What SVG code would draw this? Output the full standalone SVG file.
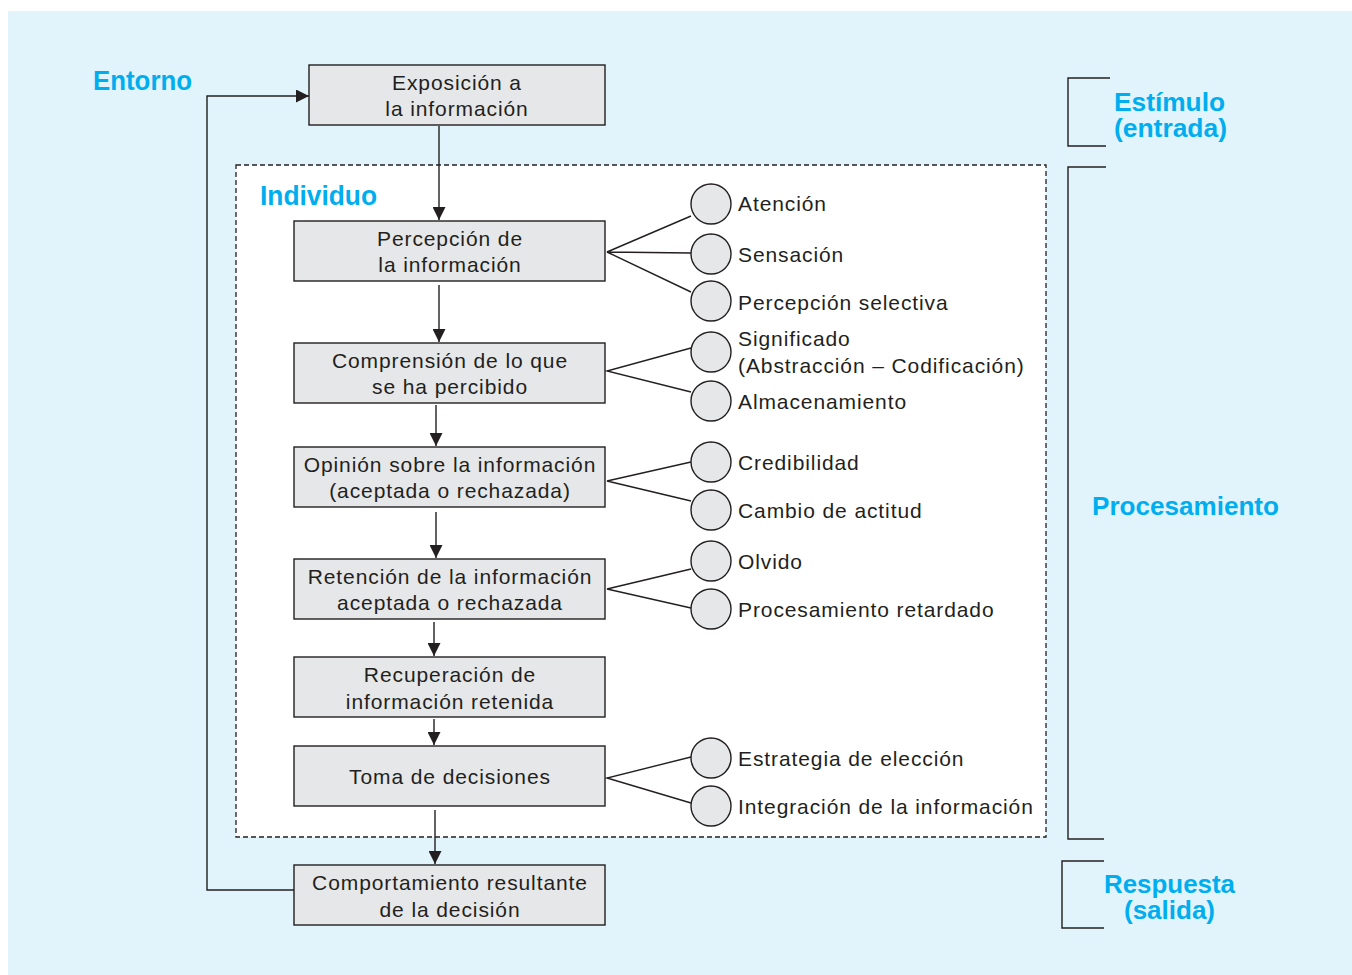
<svg xmlns="http://www.w3.org/2000/svg" width="1352" height="975" viewBox="0 0 1352 975">
<defs>
<marker id="ah" viewBox="0 0 10 10" refX="10" refY="5" markerWidth="13" markerHeight="13" markerUnits="userSpaceOnUse" orient="auto">
<path d="M0,0 L10,5 L0,10 Z" fill="#231f20"/>
</marker>
<style>
.box{fill:#e6e7e8;stroke:#231f20;stroke-width:1.4}
.bt{font-family:"Liberation Sans",Arial,sans-serif;font-size:21px;fill:#231f20;text-anchor:middle;letter-spacing:0.9px}
.lt{font-family:"Liberation Sans",Arial,sans-serif;font-size:21px;fill:#231f20;letter-spacing:0.9px}
.circ{fill:#e6e7e8;stroke:#231f20;stroke-width:1.4}
.ln{stroke:#231f20;stroke-width:1.4;fill:none}
.blue{font-family:"Liberation Sans",Arial,sans-serif;font-weight:bold;fill:#00aeef}
</style>
</defs>
<rect x="0" y="0" width="1352" height="975" fill="#ffffff"/>
<rect x="8" y="11" width="1344" height="964" fill="#e1f4fb"/>
<rect id="individuo-box" x="236" y="165" width="810" height="672" fill="#ffffff" stroke="#231f20" stroke-width="1.3" stroke-dasharray="5,3"/>

<g id="labels">
<text class="blue" x="93" y="90" font-size="27" textLength="99" lengthAdjust="spacingAndGlyphs">Entorno</text>
<text class="blue" x="260" y="205" font-size="27" textLength="117" lengthAdjust="spacingAndGlyphs">Individuo</text>
<text class="blue" x="1114" y="111" font-size="25" textLength="111" lengthAdjust="spacingAndGlyphs">Estímulo</text>
<text class="blue" x="1114" y="137" font-size="25" textLength="113" lengthAdjust="spacingAndGlyphs">(entrada)</text>
<text class="blue" x="1092" y="515" font-size="25" textLength="187" lengthAdjust="spacingAndGlyphs">Procesamiento</text>
<text class="blue" x="1104" y="893" font-size="25" textLength="131" lengthAdjust="spacingAndGlyphs">Respuesta</text>
<text class="blue" x="1124" y="919" font-size="25" textLength="91" lengthAdjust="spacingAndGlyphs">(salida)</text>
</g>

<g id="brackets" class="ln">
<path class="ln" d="M1110,78 H1068 V146 H1106"/>
<path class="ln" d="M1106,167 H1068 V839 H1104"/>
<path class="ln" d="M1104,861 H1062 V928 H1104"/>
</g>

<g id="connectors">
<line class="ln" x1="439" y1="126" x2="439" y2="220" marker-end="url(#ah)"/>
<line class="ln" x1="439" y1="285" x2="439" y2="342" marker-end="url(#ah)"/>
<line class="ln" x1="436" y1="405" x2="436" y2="446" marker-end="url(#ah)"/>
<line class="ln" x1="436" y1="512" x2="436" y2="558" marker-end="url(#ah)"/>
<line class="ln" x1="434" y1="622" x2="434" y2="656" marker-end="url(#ah)"/>
<line class="ln" x1="434" y1="719" x2="434" y2="745" marker-end="url(#ah)"/>
<line class="ln" x1="435" y1="810" x2="435" y2="864" marker-end="url(#ah)"/>
<path class="ln" d="M294,890 H207 V96 H309" marker-end="url(#ah)"/>
<path class="ln" d="M691,216 L607,252 L691,253 M607,252 L691,292"/>
<path class="ln" d="M691,348 L607,371 L691,392"/>
<path class="ln" d="M691,462 L607,481 L691,501"/>
<path class="ln" d="M691,569 L607,589 L691,608"/>
<path class="ln" d="M691,757 L607,778 L691,803"/>
</g>

<g id="n-exposicion"><rect class="box" x="309" y="65" width="296" height="60"/><text class="bt" x="457" y="90">Exposición a</text><text class="bt" x="457" y="116">la información</text></g>
<g id="n-percepcion"><rect class="box" x="294" y="221" width="311" height="60"/><text class="bt" x="450" y="246">Percepción de</text><text class="bt" x="450" y="272">la información</text></g>
<g id="n-comprension"><rect class="box" x="294" y="343" width="311" height="60"/><text class="bt" x="450" y="368">Comprensión de lo que</text><text class="bt" x="450" y="394">se ha percibido</text></g>
<g id="n-opinion"><rect class="box" x="294" y="447" width="311" height="60"/><text class="bt" x="450" y="472">Opinión sobre la información</text><text class="bt" x="450" y="498">(aceptada o rechazada)</text></g>
<g id="n-retencion"><rect class="box" x="294" y="559" width="311" height="60"/><text class="bt" x="450" y="584">Retención de la información</text><text class="bt" x="450" y="610">aceptada o rechazada</text></g>
<g id="n-recuperacion"><rect class="box" x="294" y="657" width="311" height="60"/><text class="bt" x="450" y="682">Recuperación de</text><text class="bt" x="450" y="709">información retenida</text></g>
<g id="n-toma"><rect class="box" x="294" y="746" width="311" height="60"/><text class="bt" x="450" y="784">Toma de decisiones</text></g>
<g id="n-comportamiento"><rect class="box" x="294" y="865" width="311" height="60"/><text class="bt" x="450" y="890">Comportamiento resultante</text><text class="bt" x="450" y="917">de la decisión</text></g>

<g id="c-atencion"><circle class="circ" cx="711" cy="204" r="20"/><text class="lt" x="738" y="211">Atención</text></g>
<g id="c-sensacion"><circle class="circ" cx="711" cy="254" r="20"/><text class="lt" x="738" y="262">Sensación</text></g>
<g id="c-percepcion-selectiva"><circle class="circ" cx="711" cy="301" r="20"/><text class="lt" x="738" y="310">Percepción selectiva</text></g>
<g id="c-significado"><circle class="circ" cx="711" cy="352" r="20"/><text class="lt" x="738" y="346">Significado</text><text class="lt" x="738" y="373">(Abstracción – Codificación)</text></g>
<g id="c-almacenamiento"><circle class="circ" cx="711" cy="401" r="20"/><text class="lt" x="738" y="409">Almacenamiento</text></g>
<g id="c-credibilidad"><circle class="circ" cx="711" cy="462" r="20"/><text class="lt" x="738" y="470">Credibilidad</text></g>
<g id="c-cambio"><circle class="circ" cx="711" cy="510" r="20"/><text class="lt" x="738" y="518">Cambio de actitud</text></g>
<g id="c-olvido"><circle class="circ" cx="711" cy="561" r="20"/><text class="lt" x="738" y="569">Olvido</text></g>
<g id="c-procesamiento-retardado"><circle class="circ" cx="711" cy="609" r="20"/><text class="lt" x="738" y="617">Procesamiento retardado</text></g>
<g id="c-estrategia"><circle class="circ" cx="711" cy="758" r="20"/><text class="lt" x="738" y="766">Estrategia de elección</text></g>
<g id="c-integracion"><circle class="circ" cx="711" cy="806" r="20"/><text class="lt" x="738" y="814">Integración de la información</text></g>
</svg>
